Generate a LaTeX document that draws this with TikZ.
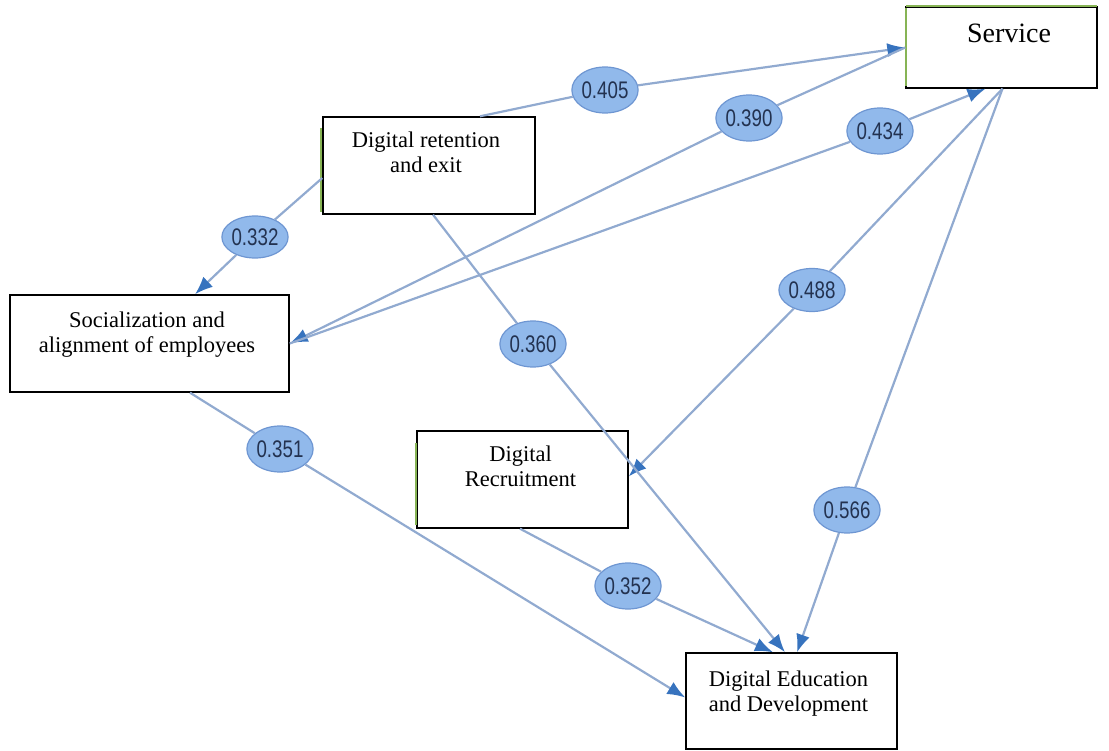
\documentclass[tikz,border=0pt]{standalone}
\usepackage{fontspec}
\setmainfont{Liberation Serif}
\newfontfamily\lblfont{Liberation Sans}
\usetikzlibrary{shapes.geometric,arrows.meta,calc}
\definecolor{edgeblue}{RGB}{145,170,208}
\definecolor{tipblue}{RGB}{55,115,190}
\definecolor{ellfill}{RGB}{145,185,235}
\definecolor{elldraw}{RGB}{110,150,210}
\definecolor{elltext}{RGB}{35,50,80}
\definecolor{greenedge}{RGB}{135,180,85}
\begin{document}
\begin{tikzpicture}[x=1pt,y=1pt,
  box/.style={draw=black, line width=1.4pt, fill=white, inner sep=0pt},
  boxtext/.style={align=center, inner sep=0pt, font=\fontsize{22.5}{25}\selectfont},
  lbl/.style={ellipse, draw=elldraw, line width=1.2pt, fill=ellfill, minimum width=62pt, minimum height=46pt, inner sep=0pt, font=\lblfont\fontsize{24}{24}\selectfont, text=elltext},
  edge/.style={draw=edgeblue, line width=2.2pt},
  arr/.style={edge, -{Latex[length=18pt,width=14pt,color=tipblue]}},
  greenline/.style={draw=greenedge, line width=2pt}
]
\useasboundingbox (0,0) rectangle (1109,-751);

% boxes
\node[box, minimum width=191pt, minimum height=81pt] (svc) at (1001.5,-47.5) {};
\node[box, minimum width=212pt, minimum height=97pt] (ret) at (429,-165.5) {};
\node[box, minimum width=279pt, minimum height=97pt] (soc) at (149.5,-343.5) {};
\node[box, minimum width=211pt, minimum height=97pt] (rec) at (522.5,-479.5) {};
\node[box, minimum width=211pt, minimum height=96pt] (edu) at (791.5,-701) {};

% green edge traces
\draw[greenline] (906,-6.5) -- (1097,-6.5);
\draw[greenline] (905.5,-8) -- (905.5,-86);
\draw[greenline] (321,-128) -- (321,-212);
\draw[greenline] (416,-443) -- (416,-525);

% box texts
\node[anchor=base, inner sep=0pt, font=\fontsize{28}{30}\selectfont] (svct) at (1009,-43) {Service};
\node[boxtext] (rett) at (426,-152.8) {Digital retention\\and exit};
\node[boxtext] (soct) at (147,-334.3) {Socialization and\\alignment of employees};
\node[boxtext] (rect) at (520.5,-466.8) {Digital\\Recruitment};
\node[boxtext] (edut) at (788.5,-693.3) {Digital Education\\and Development};

% labels
\node[lbl] (l405) at (605,-90) {\scalebox{0.78}[1]{0.405}};
\node[lbl] (l390) at (749,-118) {\scalebox{0.78}[1]{0.390}};
\node[lbl] (l434) at (880,-131) {\scalebox{0.78}[1]{0.434}};
\node[lbl, minimum height=42pt] (l332) at (255,-237) {\scalebox{0.78}[1]{0.332}};
\node[lbl, minimum height=43pt] (l488) at (812,-290) {\scalebox{0.78}[1]{0.488}};
\node[lbl] (l360) at (533,-344) {\scalebox{0.78}[1]{0.360}};
\node[lbl] (l351) at (280,-449) {\scalebox{0.78}[1]{0.351}};
\node[lbl] (l566) at (847,-510) {\scalebox{0.78}[1]{0.566}};
\node[lbl] (l352) at (628,-586) {\scalebox{0.78}[1]{0.352}};

% connectors
\draw[arr] ([yshift=-12.5pt]ret.west) -- (l332) -- ([xshift=45.5pt]soc.north);
\draw[arr] ([xshift=51pt]ret.north) -- (l405) -- (svc.west);
\draw[arr] (svc.west) -- (l390) -- (soc.east);
\draw[arr] (soc.east) -- (l434) -- ([xshift=-16pt]svc.south);
\draw[arr] ([xshift=1pt]svc.south) -- (l488) -- ([yshift=3pt]rec.east);
\draw[arr] ([xshift=1pt]svc.south) -- (l566) -- ([xshift=5.5pt]edu.north);
\draw[arr] ([xshift=4pt]ret.south) -- (l360) -- ([xshift=-6.5pt]edu.north);
\draw[arr] ([xshift=40.5pt]soc.south) -- (l351) -- ([yshift=3.5pt]edu.west);
\draw[arr] ([xshift=-2.5pt]rec.south) -- (l352) -- ([xshift=-18.5pt]edu.north);
\end{tikzpicture}
\end{document}
